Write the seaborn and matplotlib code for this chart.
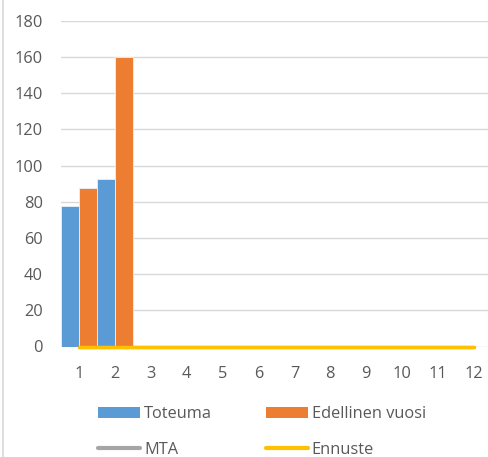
import numpy as np
import pandas as pd
import matplotlib
matplotlib.use("Agg")
import matplotlib.pyplot as plt
from matplotlib.patches import Patch
from matplotlib.lines import Line2D
import seaborn as sns

months = ["1", "2", "3", "4", "5", "6", "7", "8", "9", "10", "11", "12"]
toteuma = [77.6, 92.4] + [np.nan] * 10
edellinen = [87.6, 160.0] + [np.nan] * 10
mta = [0] * 12
ennuste = [0] * 12
yticks = [0, 20, 40, 60, 80, 100, 120, 140, 160, 180]

C_BLUE = "#5B9BD5"
C_ORANGE = "#ED7D31"
C_GRAY = "#A5A5A5"
C_YELLOW = "#FFC000"
C_TEXT = "#595959"
C_GRID = "#D9D9D9"

sns.set_theme(style="white")
plt.rcParams["font.family"] = ["Open Sans", "DejaVu Sans"]

W, H = 489, 457
FS = 11.8
fig = plt.figure(figsize=(W / 100, H / 100), dpi=100)
x0, x1 = 61, 492
y0, y1 = 346.5, 20.7
ax = fig.add_axes([x0 / W, (H - y0) / H, (x1 - x0) / W, (y0 - y1) / H])

df = pd.DataFrame({
    "month": months * 2,
    "series": ["Toteuma"] * 12 + ["Edellinen vuosi"] * 12,
    "value": toteuma + edellinen,
})
sns.barplot(data=df, x="month", y="value", hue="series", order=months,
            hue_order=["Toteuma", "Edellinen vuosi"],
            palette=[C_BLUE, C_ORANGE], saturation=1, width=1.0, ax=ax,
            legend=False, edgecolor="#EAF1FA", linewidth=0.6, zorder=2)

pos = np.arange(len(months))
sns.lineplot(x=pos, y=mta, color=C_GRAY, linewidth=2.4, ax=ax, zorder=3,
             clip_on=False)
sns.lineplot(x=pos, y=ennuste, color=C_YELLOW, linewidth=2.4, ax=ax, zorder=4,
             solid_capstyle="round", clip_on=False)

ax.set_xlim(-0.5, len(months) - 0.5)
ax.set_ylim(0, 180)
ax.set_yticks(yticks)
ax.set_yticklabels([str(v) for v in yticks])
ax.set_xticks(pos)
ax.set_xticklabels(months)
ax.set_xlabel("")
ax.set_ylabel("")
ax.grid(axis="y", color=C_GRID, linewidth=1.0, zorder=0)
ax.set_axisbelow(True)
for s in ax.spines.values():
    s.set_visible(False)
ax.tick_params(axis="both", length=0, labelsize=FS, labelcolor=C_TEXT)
ax.tick_params(axis="y", pad=13)
ax.tick_params(axis="x", pad=14)

handles = [
    Patch(facecolor=C_BLUE, edgecolor="none"),
    Line2D([0], [0], color=C_GRAY, linewidth=3),
    Patch(facecolor=C_ORANGE, edgecolor="none"),
    Line2D([0], [0], color=C_YELLOW, linewidth=3),
]
labels = ["Toteuma", "MTA", "Edellinen vuosi", "Ennuste"]
leg = fig.legend(handles, labels, ncol=2, loc="upper left",
                 bbox_to_anchor=(98 / W, 1 - 406 / H), frameon=False,
                 fontsize=FS, handlelength=2.55, handleheight=0.68,
                 handletextpad=0.25, columnspacing=3.3, labelspacing=1.22,
                 borderpad=0, borderaxespad=0)
for t in leg.get_texts():
    t.set_color(C_TEXT)

fig.add_artist(Line2D([2.5 / W, 2.5 / W], [0, 1], color=C_GRID, linewidth=1.2))

fig.savefig("out.png", dpi=100)
